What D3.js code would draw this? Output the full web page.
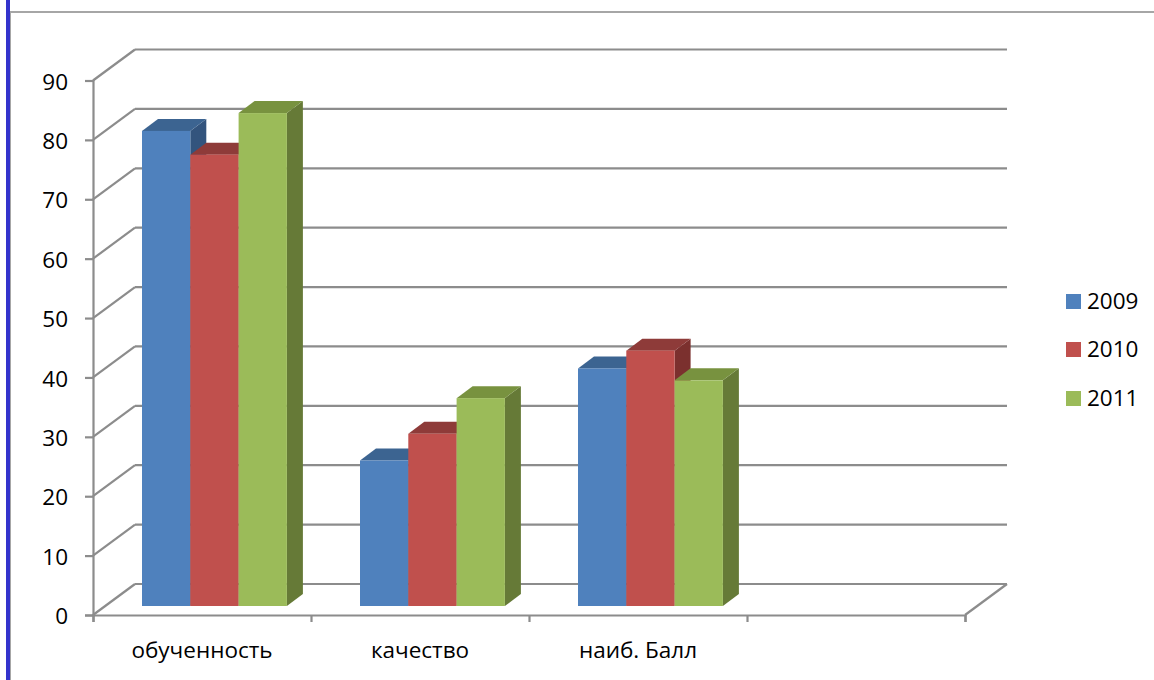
<!DOCTYPE html>
<html>
<head>
<meta charset="utf-8">
<script src="https://cdn.jsdelivr.net/npm/d3@7"></script>
<style>
body { margin: 0; background: #fff; overflow: hidden; }
text { font-family: "Open Sans", sans-serif; fill: #000; }
.axis path, .axis line { stroke: #8c8c8c; stroke-width: 2.2; }
.axis text { font-size: 22.5px; font-family: "Open Sans", sans-serif; fill: #000; }
.grid { stroke: #8c8c8c; stroke-width: 2.2; fill: none; }
</style>
</head>
<body>
<div id="chart"></div>
<script>
let categories = ['обученность', 'качество', 'наиб. Балл', '']
let years = ['2009', '2010', '2011']
let values2009 = [80, 24.5, 40]
let values2010 = [76, 29, 43]
let values2011 = [83, 35, 38]
let yTicks = [0, 10, 20, 30, 40, 50, 60, 70, 80, 90]

let faceColors = ['#4f81bd', '#c0504d', '#9bbb59']
let topColors = ['#3c6491', '#8e3b39', '#78923f']
let sideColors = ['#33547d', '#7b302e', '#667a37']

let svg = d3.select('#chart')
    .append('svg')
    .attr('width', 1154)
    .attr('height', 680)

// page frame
svg.append('rect').attr('x', 6).attr('y', 0).attr('width', 4).attr('height', 680).attr('fill', '#3333cc')
svg.append('line').attr('x1', 10.5).attr('x2', 10.5).attr('y1', 12).attr('y2', 680).attr('stroke', '#a6a6a6').attr('stroke-width', 1)
svg.append('line').attr('x1', 10).attr('x2', 1154).attr('y1', 12).attr('y2', 12).attr('stroke', '#a6a6a6').attr('stroke-width', 2)

let xScale = d3.scaleBand()
    .domain(d3.range(categories.length))
    .range([93, 965])

let yScale = d3.scaleLinear()
    .domain([0, 90])
    .range([615, 80.5])

// wall depth, and how far the bars stand off the front edge
let wallDx = 42, wallDy = -31
let floorDy = -9, barDx = 16, barDy = -12
let barOffset = 49, barWidth = 48.3

// back wall and side wall lines
svg.append('g').selectAll('line.back')
    .data(yTicks)
    .enter()
    .append('line')
    .attr('class', 'grid')
    .attr('x1', 93 + wallDx)
    .attr('x2', 965 + wallDx)
    .attr('y1', d => yScale(d) + wallDy)
    .attr('y2', d => yScale(d) + wallDy)

svg.append('g').selectAll('line.side')
    .data(yTicks)
    .enter()
    .append('line')
    .attr('class', 'grid')
    .attr('x1', 93)
    .attr('x2', 93 + wallDx)
    .attr('y1', d => yScale(d))
    .attr('y2', d => yScale(d) + wallDy)

svg.append('line')
    .attr('class', 'grid')
    .attr('x1', 965)
    .attr('x2', 965 + wallDx)
    .attr('y1', yScale(0))
    .attr('y2', yScale(0) + wallDy)

let yAxis = d3.axisLeft(yScale).tickValues(yTicks).tickSize(8).tickPadding(17)
svg.append('g')
    .attr('class', 'axis')
    .attr('transform', 'translate(93,0)')
    .call(yAxis)
    .selectAll('text')
    .attr('dy', '0.38em')

let xAxis = d3.axisBottom(d3.scaleLinear().domain([0, 4]).range([93, 965]))
    .tickValues(d3.range(5))
    .tickSize(7)
    .tickFormat('')
svg.append('g')
    .attr('class', 'axis')
    .attr('transform', 'translate(0,615)')
    .call(xAxis)

svg.selectAll('.catLabel')
    .data(categories)
    .enter()
    .append('text')
    .attr('class', 'catLabel')
    .attr('x', (d, i) => xScale(i) + xScale.step() / 2)
    .attr('y', 658)
    .attr('text-anchor', 'middle')
    .attr('font-size', 22.5)
    .text(d => d)

let seriesList = [values2009, values2010, values2011]
let bars = []
seriesList.forEach((vals, s) => {
    vals.forEach((v, c) => bars.push({ s: s, c: c, v: v }))
})
bars.sort((a, b) => a.c - b.c || a.s - b.s)

let barG = svg.selectAll('.bar')
    .data(bars)
    .enter()
    .append('g')
    .attr('class', 'bar')

let left = d => xScale(d.c) + barOffset + d.s * barWidth
let top_ = d => yScale(d.v) + floorDy
let bottom = () => yScale(0) + floorDy

barG.append('polygon')
    .attr('fill', d => sideColors[d.s])
    .attr('points', d => {
        let x = left(d) + barWidth
        return [[x, top_(d)], [x + barDx, top_(d) + barDy], [x + barDx, bottom() + barDy], [x, bottom()]].join(' ')
    })

barG.append('polygon')
    .attr('fill', d => topColors[d.s])
    .attr('points', d => {
        let x = left(d)
        return [[x, top_(d)], [x + barDx, top_(d) + barDy], [x + barWidth + barDx, top_(d) + barDy], [x + barWidth, top_(d)]].join(' ')
    })

barG.append('rect')
    .attr('fill', d => faceColors[d.s])
    .attr('x', left)
    .attr('y', top_)
    .attr('width', barWidth)
    .attr('height', d => bottom() - top_(d))

// legend
let legendY = d3.scaleOrdinal().domain(years).range([301.5, 349.5, 398.5])
let legend = svg.selectAll('.legend')
    .data(years)
    .enter()
    .append('g')
    .attr('class', 'legend')
    .attr('transform', d => `translate(1066,${legendY(d)})`)

legend.append('rect')
    .attr('y', -7.5)
    .attr('width', 15)
    .attr('height', 15)
    .attr('fill', (d, i) => faceColors[i])

legend.append('text')
    .attr('x', 21)
    .attr('y', 7.5)
    .attr('font-size', 22.5)
    .text(d => d)
</script>
</body>
</html>
